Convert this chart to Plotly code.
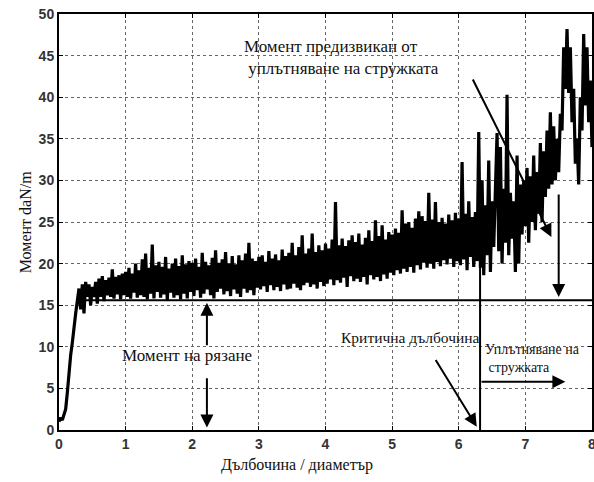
import plotly.graph_objects as go

torque_0_1 = [1.0, 1.5, 1.2, 2.0, 2.5, 4.5, 7.0, 9.0, 10.5, 12.5,
              14.0, 15.5, 17.0, 14.5, 17.5, 14.0, 17.8, 16.0, 17.5, 15.0,
              17.2, 16.0, 17.8, 15.2, 18.2, 16.0, 18.5, 15.5, 18.0, 16.2,
              18.3, 16.0, 19.3, 15.8, 18.4, 16.3, 18.6, 15.7, 18.8, 16.2]
torque_1_2 = [19.0, 16.0, 19.5, 15.8, 18.8, 16.5, 20.0, 15.9, 19.2, 16.2,
              20.5, 16.0, 21.2, 15.7, 19.5, 16.4, 22.3, 15.8, 19.8, 16.6,
              20.2, 15.9, 19.6, 16.3, 20.8, 15.6, 19.4, 16.5, 20.0, 15.9,
              20.6, 16.2, 19.7, 15.7, 21.0, 16.4, 19.9, 15.8, 20.3, 16.6]
torque_2_3 = [20.1, 16.1, 20.6, 16.8, 19.6, 15.9, 21.3, 16.4, 20.2, 16.9,
              19.8, 16.2, 20.7, 15.8, 21.6, 16.6, 20.1, 17.0, 20.5, 16.3,
              21.4, 16.7, 20.0, 16.1, 20.9, 16.9, 19.9, 16.4, 21.0, 16.0,
              20.4, 17.0, 21.2, 16.5, 22.5, 16.8, 20.6, 16.2, 20.3, 17.1]
torque_3_4 = [20.8, 16.9, 21.0, 17.3, 20.2, 16.6, 21.5, 17.4, 20.6, 16.8,
              21.1, 17.2, 20.4, 16.7, 21.7, 17.5, 20.9, 16.9, 21.3, 17.0,
              22.5, 17.6, 21.0, 17.1, 22.0, 16.8, 23.4, 17.4, 21.2, 17.7,
              21.8, 17.2, 23.6, 17.5, 21.4, 17.0, 22.2, 17.8, 21.6, 17.3]
torque_4_5 = [22.4, 17.6, 21.8, 18.1, 22.9, 17.4, 27.4, 18.0, 22.2, 17.7,
              23.0, 18.3, 22.1, 17.2, 22.8, 18.5, 23.4, 17.9, 22.6, 18.2,
              23.6, 17.8, 22.3, 18.4, 23.1, 17.5, 24.0, 18.6, 22.7, 18.1,
              25.2, 18.4, 23.3, 17.9, 24.6, 18.7, 22.9, 18.2, 23.8, 18.9]
torque_5_6 = [23.5, 18.6, 24.2, 19.2, 23.7, 18.8, 26.4, 19.4, 24.8, 19.0,
              25.0, 19.6, 24.3, 18.9, 25.4, 19.8, 26.3, 19.3, 25.7, 20.1,
              25.1, 19.5, 28.5, 20.0, 25.3, 19.4, 27.4, 20.2, 25.0, 19.7,
              25.5, 20.4, 24.8, 19.9, 25.9, 20.6, 25.2, 19.6, 26.1, 20.3]
torque_6_7 = [25.4, 19.8, 32.2, 20.5, 26.0, 19.2, 27.5, 20.8, 25.6, 19.6,
              26.2, 20.3, 35.8, 19.5, 30.0, 18.6, 27.0, 21.0, 32.4, 19.0,
              27.5, 22.0, 28.0, 35.7, 21.5, 34.0, 20.0, 29.0, 22.5, 40.3,
              21.0, 28.5, 23.0, 27.5, 19.0, 33.0, 20.0, 29.5, 23.5, 30.0]
torque_7_8 = [24.5, 31.5, 22.5, 30.5, 25.0, 33.0, 24.0, 31.0, 26.0, 34.5,
              25.0, 33.5, 28.0, 36.0, 29.0, 38.2, 29.5, 36.5, 30.0, 35.0,
              31.0, 38.0, 36.0, 46.0, 41.0, 48.2, 40.5, 46.0, 37.0, 41.0,
              32.0, 35.0, 29.5, 40.0, 36.0, 47.6, 39.0, 46.0, 37.0, 42.0,
              34.0]

torque = (torque_0_1 + torque_1_2 + torque_2_3 + torque_3_4 +
          torque_4_5 + torque_5_6 + torque_6_7 + torque_7_8)
sample_step = 0.025
depth = [i * sample_step for i in range(len(torque))]

x_ticks = [0, 1, 2, 3, 4, 5, 6, 7, 8]
y_ticks = [0, 5, 10, 15, 20, 25, 30, 35, 40, 45, 50]

cutting_torque = 15.6
critical_depth = 6.32

SERIF = "Liberation Serif"
SANS = "Liberation Sans"

fig = go.Figure()
fig.add_trace(go.Scatter(x=depth, y=torque, mode="lines",
                         line=dict(color="black", width=3.2),
                         hoverinfo="skip", showlegend=False))

shapes = [
    dict(type="line", xref="x", yref="y", x0=0.28, x1=8, y0=cutting_torque, y1=cutting_torque,
         line=dict(color="black", width=2)),
    dict(type="line", xref="x", yref="y", x0=critical_depth, x1=critical_depth, y0=0, y1=22,
         line=dict(color="black", width=2)),
]

def arrow(x, y, ax, ay):
    return dict(x=x, y=y, ax=ax, ay=ay, xref="x", yref="y", axref="x", ayref="y",
                text="", showarrow=True, arrowhead=2, arrowsize=1.3, arrowwidth=2,
                arrowcolor="black")

annotations = [
    arrow(7.39, 23.2, 6.2, 42.3),
    arrow(7.5, 16.0, 7.5, 28.5),
    arrow(2.22, 15.3, 2.22, 10.0),
    arrow(2.22, 0.3, 2.22, 6.4),
    arrow(6.27, 0.4, 5.64, 8.6),
    arrow(7.6, 5.8, critical_depth, 5.8),
    dict(x=2.74, y=44.8, xref="x", yref="y", showarrow=False, xanchor="left",
         text="Момент предизвикан от<br> уплътняване на стружката",
         font=dict(family=SERIF, size=17, color="#111"), align="left"),
    dict(x=1.92, y=9.0, xref="x", yref="y", showarrow=False,
         text="Момент на рязане", font=dict(family=SERIF, size=17, color="#111")),
    dict(x=5.28, y=11.1, xref="x", yref="y", showarrow=False,
         text="Критична дълбочина", font=dict(family=SERIF, size=15.5, color="#111")),
    dict(x=6.36, y=8.6, xref="x", yref="y", showarrow=False, xanchor="left",
         text="Уплътняване на<br> стружката", align="left",
         font=dict(family=SERIF, size=14, color="#111")),
    dict(x=0.447, y=-0.085, xref="paper", yref="paper", showarrow=False,
         yanchor="middle", text="Дълбочина / диаметър",
         font=dict(family=SERIF, size=16, color="#111")),
    dict(x=-0.083, y=0.5, xref="paper", yref="paper", showarrow=False,
         textangle=-90, text="Момент daN/m",
         font=dict(family=SERIF, size=16, color="#111")),
]

axis_common = dict(showline=True, linecolor="black", linewidth=2, mirror="ticks",
                   ticks="inside", ticklen=4, tickcolor="black",
                   showgrid=True, gridcolor="#666", griddash="dot", gridwidth=1,
                   zeroline=False, automargin=False, ticklabeloverflow="allow",
                   tickfont=dict(family=SANS, size=14, color="#333", weight=700))

fig.update_layout(
    width=594, height=482,
    margin=dict(l=59, r=2, t=14, b=52),
    paper_bgcolor="white", plot_bgcolor="white",
    shapes=shapes, annotations=annotations,
    xaxis=dict(range=[0, 8], tickvals=x_ticks, **axis_common),
    yaxis=dict(range=[0, 50], tickvals=y_ticks, **axis_common),
)

fig.write_html("out.html", config={"displayModeBar": False},
               post_script="document.body.style.margin='0px';document.body.style.overflow='hidden';")
